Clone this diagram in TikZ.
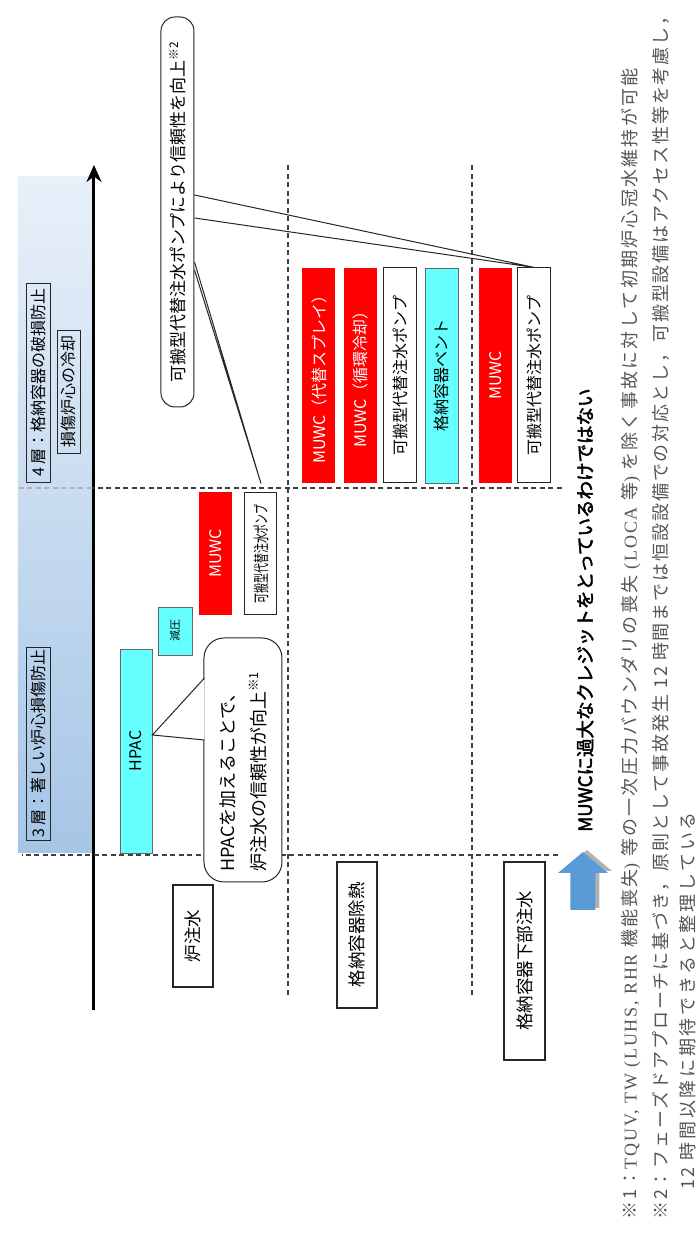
\documentclass[tikz,border=0pt]{standalone}
\usepackage{fontspec}
\setmainfont{Noto Sans CJK JP}[AutoFakeBold=2.5]
\newfontfamily\notefont{Noto Sans CJK JP}[LetterSpace=15]
\newfontfamily\notefontn{Noto Sans CJK JP}[LetterSpace=12.5]
\newfontfamily\notefontm{Noto Sans CJK JP}[LetterSpace=10.5]
\newfontfamily\notelatin{Liberation Serif}[LetterSpace=10]
\usetikzlibrary{arrows.meta,calc}
\definecolor{muwcred}{HTML}{FF0000}
\definecolor{hpaccyan}{HTML}{66FFFF}
\definecolor{bandlight}{HTML}{E8F0F9}
\definecolor{banddark}{HTML}{A6C6E6}
\definecolor{arrowblue}{HTML}{5B9BD5}
\definecolor{notegray}{HTML}{555555}

\begin{document}
\begin{tikzpicture}[x=1pt, y=1pt, rotate=90, transform shape,
    every node/.style={inner sep=0pt},
    rowbox/.style={draw=black!85, line width=1.1pt, fill=white, minimum height=40,
      font=\fontsize{17.5}{20}\selectfont},
    bar/.style={minimum width=215, minimum height=33, font=\fontsize{16}{19}\selectfont},
    redbar/.style={bar, fill=muwcred, text=white},
    whitebar/.style={bar, draw=black!85, line width=1pt, fill=white},
    cyanbar/.style={bar, draw=black!60, line width=0.8pt, fill=hpaccyan},
    layer/.style={draw=black!85, line width=0.9pt, inner xsep=2pt, minimum height=24,
      font=\fontsize{16}{19}\selectfont},
    divline/.style={black!75, line width=1.1pt, dash pattern=on 5pt off 3.5pt},
    callout/.style={draw=black!85, line width=1pt, fill=white, rounded corners=14pt},
    wedge/.style={black!85, line width=1pt},
    footnote/.style={anchor=west, text=notegray, font=\notefont\fontsize{18}{20}\selectfont}
  ]
  \useasboundingbox (0,0) rectangle (1237,697);

  % layer band and time axis
  \shade[top color=bandlight, bottom color=banddark] (384,605) rectangle (1060,679);
  \coordinate (t0) at (227,603);
  \coordinate (t1) at (1072,603);
  \draw[line width=3pt, -{Stealth[length=17pt,width=15pt]}] (t0) -- (t1);

  % dividers
  \coordinate (d3a) at (382,139);
  \coordinate (d3b) at (382,675);
  \coordinate (d4a) at (749,135);
  \coordinate (d4b) at (749,605);
  \coordinate (d4c) at (749,679);
  \coordinate (r1a) at (242,409);
  \coordinate (r1b) at (1074,409);
  \coordinate (r2a) at (242,225);
  \coordinate (r2b) at (1074,225);
  \draw[divline] (d3a) -- (d3b);
  \draw[divline] (d4a) -- (d4b);
  \draw[divline, black!30] (d4b) -- (d4c);
  \draw[divline] (r1a) -- (r1b);
  \draw[divline] (r2a) -- (r2b);

  \node[layer, minimum width=193] (lay3) at (493.5,659) {3 層：著しい炉心損傷防止};
  \node[layer, minimum width=199] (lay4) at (854.5,659) {4 層：格納容器の破損防止};
  \node[layer, minimum width=123, minimum height=23] (cool) at (845.5,628.5) {損傷炉心の冷却};

  % rows
  \node[rowbox, minimum width=102] (inj) at (301,504) {炉注水};
  \node[rowbox, minimum width=146] (heat) at (302,340) {格納容器除熱};
  \node[rowbox, minimum width=198, minimum height=41] (lower) at (276,172.5) {格納容器下部注水};

  % 3rd layer means
  \node[cyanbar, minimum width=204, minimum height=32] (hpac) at (486,561) {HPAC};
  \node[cyanbar, minimum width=48, minimum height=34, font=\fontsize{11}{13}\selectfont] (depr) at (606,522) {減圧};
  \node[redbar, minimum width=123] (muwcA) at (683.5,481.5) {MUWC};
  \node[whitebar, minimum width=122, minimum height=32] (pumpA) at (683,436) {\scalebox{0.62}[1]{可搬型代替注水ポンプ}};

  \node[callout, rounded corners=20pt, minimum width=244, minimum height=78, text width=224,
    align=left, font=\fontsize{18}{31}\selectfont] (hpacnote) at (477,454)
    {HPACを加えることで、\\炉注水の信頼性が向上\textsuperscript{※1}};
  \coordinate (hpacbase1) at ($(hpacnote.north)+(82,-1)$);
  \coordinate (hpacbase2) at ($(hpacnote.north)+(20,-1)$);
  \coordinate (hpactip) at ($(hpac.south)+(16,0)$);
  \fill[white] (hpacbase1) -- (hpactip) -- (hpacbase2) -- cycle;
  \draw[wedge] (hpacbase1) -- (hpactip) -- (hpacbase2);

  % 4th layer means
  \node[redbar] (spray) at (861.5,378) {MUWC（代替スプレイ）};
  \node[redbar] (recirc) at (861.5,336.5) {MUWC（循環冷却）};
  \node[whitebar] (pumpB) at (861.5,296.5) {可搬型代替注水ポンプ};
  \node[cyanbar] (vent) at (861.5,255.5) {格納容器ベント};
  \node[redbar] (muwcB) at (861.5,201.5) {MUWC};
  \node[whitebar] (pumpC) at (861.5,162.5) {可搬型代替注水ポンプ};

  \node[callout, minimum width=390, minimum height=33, font=\fontsize{17}{20}\selectfont]
    (pumpnote) at (1025,519.5) {可搬型代替注水ポンプにより信頼性を向上\textsuperscript{※2}};
  \coordinate (notebase1) at ($(pumpnote.south)+(17,0)$);
  \coordinate (notebase2) at ($(pumpnote.south)+(-6,0)$);
  \coordinate (notebase3) at ($(pumpnote.south)+(-50,0)$);
  \coordinate (notebase4) at ($(pumpnote.south)+(-58,0)$);
  \coordinate (pumptip) at ($(pumpA.east)+(9,0)$);
  \draw[wedge] (notebase1) -- (pumpC.east) -- (notebase2);
  \draw[wedge] (notebase3) -- (pumptip) -- (notebase4);

  % conclusion
  \coordinate (arr) at (327,114);
  \fill[black!30] ($(arr)+(2,-4)$) ++(0,-12.5) -- ++(37,0) -- ++(0,-12.5) -- ++(21,25)
    -- ++(-21,25) -- ++(0,-12.5) -- ++(-37,0) -- cycle;
  \fill[arrowblue] (arr) ++(0,-12.5) -- ++(37,0) -- ++(0,-12.5) -- ++(21,25)
    -- ++(-21,25) -- ++(0,-12.5) -- ++(-37,0) -- cycle;
  \node[anchor=west, font=\bfseries\fontsize{18.5}{20}\selectfont] (credit)
    at ($(arr)+(78,-2)$) {MUWCに過大なクレジットをとっているわけではない};

  % notes
  \node[footnote, font=\notefontn\fontsize{18}{20}\selectfont] (note1) at (17,66)
    {※1：{\notelatin TQUV, TW (LUHS, RHR} 機能喪失{\notelatin )} 等の一次圧力バウンダリの喪失 {\notelatin (LOCA} 等{\notelatin )} を除く事故に対して初期炉心冠水維持が可能};
  \node[footnote, font=\notefontm\fontsize{18}{20}\selectfont] (note2) at (17,36)
    {※2：フェーズドアプローチに基づき，原則として事故発生 12 時間までは恒設設備での対応とし，可搬型設備はアクセス性等を考慮し，};
  \node[footnote] (note3) at (47,9)
    {12 時間以降に期待できると整理している};
\end{tikzpicture}
\end{document}
